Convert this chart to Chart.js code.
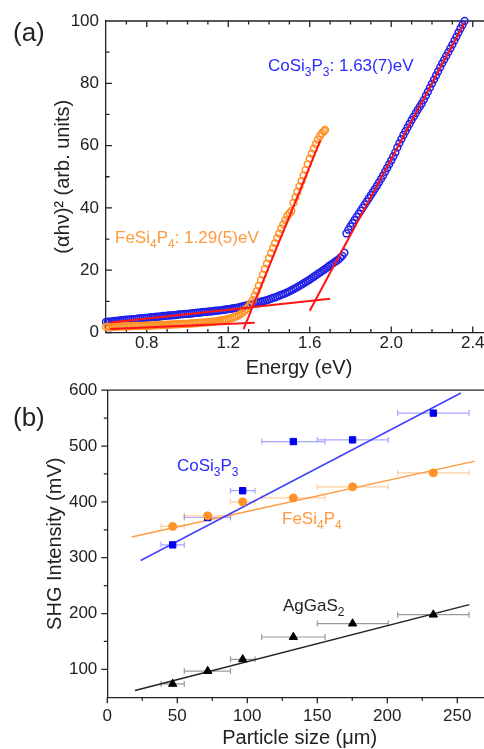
<!DOCTYPE html>
<html>
<head>
<meta charset="utf-8">
<script src="https://cdn.jsdelivr.net/npm/chart.js@4.4.0/dist/chart.umd.min.js"></script>
<style>
  body { margin: 0; background: #fff; }
  #page { position: relative; width: 484px; height: 749px; overflow: hidden; }
  #absChart { position: absolute; left: 0; top: 0; }
  #shgChart { position: absolute; left: 0; top: 370px; }
</style>
</head>
<body>
<div id="page">
  <canvas id="absChart" width="492" height="380"></canvas>
  <canvas id="shgChart" width="492" height="380"></canvas>
</div>
<script>
// ---- panel (a): Tauc plot ----
const coEnergy = [0.60,0.61,0.62,0.63,0.64,0.65,0.66,0.67,0.68,0.69,0.70,0.71,0.72,0.73,0.74,0.75,0.76,0.77,0.78,0.79,
  0.80,0.81,0.82,0.83,0.84,0.85,0.86,0.87,0.88,0.89,0.90,0.91,0.92,0.93,0.94,0.95,0.96,0.97,0.98,0.99,
  1.00,1.01,1.02,1.03,1.04,1.05,1.06,1.07,1.08,1.09,1.10,1.11,1.12,1.13,1.14,1.15,1.16,1.17,1.18,1.19,
  1.20,1.21,1.22,1.23,1.24,1.25,1.26,1.27,1.28,1.29,1.30,1.31,1.32,1.33,1.34,1.35,1.36,1.37,1.38,1.39,
  1.40,1.41,1.42,1.43,1.44,1.45,1.46,1.47,1.48,1.49,1.50,1.51,1.52,1.53,1.54,1.55,1.56,1.57,1.58,1.59,
  1.60,1.61,1.62,1.63,1.64,1.65,1.66,1.67,1.68,1.69,1.70,1.71,1.72,1.73,1.74,1.75,1.76,1.77,
  1.78,1.79,1.80,1.81,1.82,1.83,1.84,1.85,1.86,1.87,1.88,1.89,1.90,1.91,1.92,1.93,1.94,1.95,1.96,1.97,
  1.98,1.99,2.00,2.01,2.02,2.03,2.04,2.05,2.06,2.07,2.08,2.09,2.10,2.11,2.12,2.13,2.14,2.15,2.16,2.17,
  2.18,2.19,2.20,2.21,2.22,2.23,2.24,2.25,2.26,2.27,2.28,2.29,2.30,2.31,2.32,2.33,2.34,2.35,2.36];
const coAbs = [3.4,3.45,3.5,3.6,3.7,3.75,3.8,3.9,4.0,4.05,4.1,4.15,4.2,4.25,4.3,4.4,4.5,4.55,4.6,4.65,
  4.7,4.8,4.9,4.95,5.0,5.05,5.1,5.2,5.3,5.35,5.4,5.45,5.5,5.55,5.6,5.7,5.8,5.85,5.9,5.95,
  6.0,6.05,6.1,6.2,6.3,6.35,6.4,6.5,6.6,6.65,6.7,6.75,6.8,6.9,7.0,7.05,7.1,7.2,7.3,7.4,
  7.5,7.6,7.7,7.8,7.9,8.05,8.2,8.35,8.5,8.7,8.9,9.05,9.2,9.35,9.5,9.7,9.9,10.05,10.2,10.4,
  10.6,10.85,11.1,11.3,11.5,11.8,12.1,12.35,12.6,12.9,13.2,13.55,13.9,14.25,14.6,15.0,15.4,15.8,16.2,16.6,
  17.0,17.45,17.9,18.35,18.8,19.25,19.7,20.15,20.6,21.1,21.6,22.05,22.5,22.95,23.4,24.0,24.6,25.6,
  31.8,33.0,34.1,35.1,36.1,37.1,38.1,39.1,40.1,41.1,42.1,43.1,44.1,45.1,46.1,47.1,48.2,49.3,50.4,51.6,
  52.8,54.0,55.2,56.5,57.8,59.4,60.8,62.1,63.4,64.6,65.8,67.0,68.2,69.3,70.4,71.5,72.5,73.5,74.7,76.0,
  77.3,78.6,79.9,81.2,82.5,83.8,85.1,86.4,87.6,88.8,90.0,91.2,92.4,93.7,95.0,96.3,97.6,98.8,100.0];
const feEnergy = [0.60,0.61,0.62,0.63,0.64,0.65,0.66,0.67,0.68,0.69,0.70,0.71,0.72,0.73,0.74,0.75,0.76,0.77,0.78,0.79,
  0.80,0.81,0.82,0.83,0.84,0.85,0.86,0.87,0.88,0.89,0.90,0.91,0.92,0.93,0.94,0.95,0.96,0.97,0.98,0.99,
  1.00,1.01,1.02,1.03,1.04,1.05,1.06,1.07,1.08,1.09,1.10,1.11,1.12,1.13,1.14,1.15,1.16,1.17,1.18,1.19,
  1.20,1.21,1.22,1.23,1.24,
  1.25,1.26,1.27,1.28,1.29,1.30,1.31,1.32,1.33,1.34,1.35,1.36,1.37,1.38,1.39,1.40,1.41,1.42,1.43,1.44,
  1.45,1.46,1.47,1.48,1.49,1.50,1.51,1.52,1.53,1.54,1.55,1.56,1.57,1.58,1.59,1.60,1.61,1.62,1.63,1.64,
  1.65,1.66,1.67,1.675];
const feAbs = [1.8,1.8,1.8,1.85,1.85,1.9,1.9,1.95,1.95,2.0,2.0,2.0,2.05,2.05,2.1,2.1,2.1,2.15,2.15,2.2,
  2.2,2.25,2.25,2.3,2.3,2.35,2.35,2.4,2.45,2.45,2.5,2.5,2.55,2.6,2.6,2.65,2.7,2.7,2.75,2.8,
  2.8,2.85,2.9,2.95,3.0,3.05,3.1,3.15,3.2,3.25,3.3,3.35,3.45,3.5,3.6,3.7,3.8,3.95,4.05,4.2,
  4.4,4.55,4.75,4.95,5.2,
  5.5,5.9,6.4,7.0,7.6,8.4,9.3,10.4,11.8,13.3,15.0,16.8,18.6,20.4,22.1,23.8,25.5,27.1,28.7,30.3,
  31.8,33.3,34.7,36.1,37.4,38.3,39.0,41.6,43.4,45.2,46.9,48.6,50.4,52.2,54.0,55.8,57.4,59.0,60.5,61.9,
  63.1,64.0,64.6,65.0];
// red tangent lines (end points)
const coBaseX = [0.62, 1.70], coBaseY = [3.2, 10.8];
const coEdgeX = [1.60, 2.36], coEdgeY = [7.0, 99.5];
const feBaseX = [0.62, 1.33], feBaseY = [1.1, 3.1];
const feEdgeX = [1.275, 1.652], feEdgeY = [1.1, 61.7];
const energyTicks = [0.8, 1.2, 1.6, 2.0, 2.4];
const energyMinor = [0.7, 0.9, 1.0, 1.1, 1.3, 1.4, 1.5, 1.7, 1.8, 1.9, 2.1, 2.2, 2.3];
const absTicks = [0, 20, 40, 60, 80, 100];
const absMinor = [10, 30, 50, 70, 90];

// ---- panel (b): SHG vs particle size ----
const sizes = [46.7, 71.7, 96.7, 132.9, 175.2, 232.9];
const sizeLow = [38.4, 55.0, 88.0, 110.3, 150.0, 207.4];
const sizeHigh = [55.0, 88.0, 105.5, 155.5, 200.7, 258.4];
const shgCo = [323, 372, 420, 508, 511, 559];
const shgFe = [356, 375, 400, 407, 427, 452];
const shgAg = [74, 97, 118, 158, 182, 198];
const fitCoX = [23.8, 252.6], fitCoY = [295, 595];
const fitFeX = [17.4, 262.6], fitFeY = [337, 473];
const fitAgX = [19.8, 258.6], fitAgY = [62, 216];
const sizeTicks = [0, 50, 100, 150, 200, 250];
const sizeMinor = [25, 75, 125, 175, 225];
const shgTicks = [100, 200, 300, 400, 500, 600];
const shgMinor = [150, 250, 350, 450, 550];

const ink = '#222';
const fam = "'Liberation Sans', Arial, sans-serif";
const BLUE = '#2020e8', ORANGE = '#ff9226', RED = '#ff1414';

function pts(xs, ys) { return xs.map((v, i) => ({x: v, y: ys[i]})); }

// frame: top border + minor/major tick marks
const frame = {
  id: 'frame',
  beforeDatasetsDraw(chart, args, o) {
    const {ctx, chartArea: a} = chart;
    const x = chart.scales.x, y = chart.scales.y;
    ctx.save();
    ctx.strokeStyle = ink;
    ctx.lineWidth = 1.3;
    ctx.beginPath();
    ctx.moveTo(a.left, a.top); ctx.lineTo(a.right, a.top);
    const s = o.inward ? 1 : -1;
    const mark = (vals, len, axis) => vals.forEach(v => {
      if (axis === 'x') {
        const px = x.getPixelForValue(v);
        ctx.moveTo(px, a.bottom); ctx.lineTo(px, a.bottom - s * len);
        if (o.topTicks) { ctx.moveTo(px, a.top); ctx.lineTo(px, a.top + len); }
      } else {
        const py = y.getPixelForValue(v);
        ctx.moveTo(a.left, py); ctx.lineTo(a.left + s * len, py);
      }
    });
    mark(o.xMajor, 6, 'x'); mark(o.xMinor, 3.5, 'x');
    mark(o.yMajor, 6, 'y'); mark(o.yMinor, 3.5, 'y');
    ctx.stroke();
    ctx.restore();
  }
};

// horizontal error bars read from dataset.xErr
const errBars = {
  id: 'errBars',
  beforeDatasetsDraw(chart) {
    const {ctx} = chart;
    const x = chart.scales.x, y = chart.scales.y;
    chart.data.datasets.forEach(ds => {
      if (!ds.xErr) return;
      ctx.save();
      ctx.strokeStyle = ds.errColor;
      ctx.lineWidth = 1.2;
      ctx.beginPath();
      ds.data.forEach((p, i) => {
        const py = y.getPixelForValue(p.y);
        const x0 = x.getPixelForValue(ds.xErr.low[i]), x1 = x.getPixelForValue(ds.xErr.high[i]);
        ctx.moveTo(x0, py); ctx.lineTo(x1, py);
        ctx.moveTo(x0, py - 3); ctx.lineTo(x0, py + 3);
        ctx.moveTo(x1, py - 3); ctx.lineTo(x1, py + 3);
      });
      ctx.stroke();
      ctx.restore();
    });
  }
};

// text with subscripts; parts given as strings, subscripts as [string]
const notes = {
  id: 'notes',
  afterDatasetsDraw(chart, args, o) {
    const ctx = chart.ctx;
    ctx.save();
    ctx.textBaseline = 'alphabetic';
    o.items.forEach(it => {
      let px = it.x;
      ctx.fillStyle = it.color;
      it.parts.forEach(p => {
        const sub = Array.isArray(p);
        const t = sub ? p[0] : p;
        ctx.font = (sub ? Math.round(it.size * 0.7) : it.size) + 'px ' + fam;
        ctx.fillText(t, px, it.y + (sub ? it.size * 0.3 : 0));
        px += ctx.measureText(t).width;
      });
    });
    ctx.restore();
  }
};

function axisStyle(tickVals, pad, title, titlePad) {
  return {
    border: {display: true, color: ink, width: 1.3},
    grid: {display: false, drawTicks: false},
    afterBuildTicks: s => { s.ticks = tickVals.map(v => ({value: v})); },
    ticks: {color: ink, padding: pad, font: {family: fam, size: 17}},
    title: {display: true, text: title, color: ink, padding: titlePad, font: {family: fam, size: 20}}
  };
}

function line(xs, ys, color, width, order) {
  return {type: 'line', data: pts(xs, ys), borderColor: color, borderWidth: width,
    pointRadius: 0, showLine: true, fill: false, order: order};
}

new Chart(document.getElementById('absChart'), {
  type: 'scatter',
  data: {
    datasets: [
      line(feBaseX, feBaseY, RED, 2, 0),
      line(feEdgeX, feEdgeY, RED, 2, 0),
      line(coBaseX, coBaseY, RED, 2, 0),
      line(coEdgeX, coEdgeY, RED, 2, 0),
      {data: pts(feEnergy, feAbs), pointStyle: 'circle', pointRadius: 3.4, borderWidth: 1.5,
        borderColor: ORANGE, backgroundColor: 'rgba(255,255,255,0)', order: 1, clip: false},
      {data: pts(coEnergy, coAbs), pointStyle: 'circle', pointRadius: 3.4, borderWidth: 1.5,
        borderColor: BLUE, backgroundColor: 'rgba(255,255,255,0)', order: 2, clip: false}
    ]
  },
  options: {
    responsive: false,
    animation: false,
    layout: {autoPadding: false, padding: {top: 21, left: 0, right: 0, bottom: 0}},
    plugins: {
      legend: {display: false},
      tooltip: {enabled: false},
      frame: {inward: true, topTicks: true, xMajor: energyTicks, xMinor: energyMinor, yMajor: absTicks, yMinor: absMinor},
      notes: {items: [
        {x: 13, y: 41, size: 26, color: ink, parts: ['(a)']},
        {x: 268, y: 71, size: 17, color: '#2b2bff', parts: ['CoSi', ['3'], 'P', ['3'], ': 1.63(7)eV']},
        {x: 115, y: 243, size: 17, color: '#ff9a3c', parts: ['FeSi', ['4'], 'P', ['4'], ': 1.29(5)eV']}
      ]}
    },
    scales: {
      x: Object.assign(axisStyle(energyTicks, 1, 'Energy (eV)', {top: 0, bottom: 0}), {
        type: 'linear', min: 0.6, max: 2.4945,
        afterFit: s => { s.height = 47.5; }
      }),
      y: Object.assign(axisStyle(absTicks, 7, '(αhν)² (arb. units)', {top: 51, bottom: 0}), {
        min: 0, max: 100,
        afterFit: s => { s.width = 106; }
      })
    }
  },
  plugins: [frame, notes]
});

new Chart(document.getElementById('shgChart'), {
  type: 'scatter',
  data: {
    datasets: [
      line(fitCoX, fitCoY, '#4040ff', 1.5, 5),
      line(fitFeX, fitFeY, '#ff9a40', 1.5, 5),
      line(fitAgX, fitAgY, '#222', 1.5, 5),
      {data: pts(sizes, shgFe), pointStyle: 'circle', pointRadius: 4, borderWidth: 1,
        borderColor: ORANGE, backgroundColor: ORANGE, order: 0,
        xErr: {low: sizeLow, high: sizeHigh}, errColor: 'rgba(255,146,38,0.45)'},
      {data: pts(sizes, shgCo), pointStyle: 'rect', pointRadius: 4.5, borderWidth: 1,
        borderColor: '#0000f0', backgroundColor: '#0000f0', order: 1,
        xErr: {low: sizeLow, high: sizeHigh}, errColor: 'rgba(60,60,255,0.45)'},
      {data: pts(sizes, shgAg), pointStyle: 'triangle', pointRadius: 4.8, borderWidth: 1,
        borderColor: '#000', backgroundColor: '#000', order: 0,
        xErr: {low: sizeLow, high: sizeHigh}, errColor: 'rgba(0,0,0,0.4)'}
    ]
  },
  options: {
    responsive: false,
    animation: false,
    layout: {autoPadding: false, padding: {top: 17.3, left: 0, right: 0, bottom: 0}},
    plugins: {
      legend: {display: false},
      tooltip: {enabled: false},
      frame: {inward: false, topTicks: false, xMajor: sizeTicks, xMinor: sizeMinor, yMajor: shgTicks, yMinor: shgMinor},
      notes: {items: [
        {x: 13, y: 56, size: 26, color: ink, parts: ['(b)']},
        {x: 177, y: 101, size: 17, color: '#2b2bff', parts: ['CoSi', ['3'], 'P', ['3']]},
        {x: 282, y: 154, size: 17, color: '#ff9a3c', parts: ['FeSi', ['4'], 'P', ['4']]},
        {x: 283, y: 241, size: 17, color: ink, parts: ['AgGaS', ['2']]}
      ]}
    },
    scales: {
      x: Object.assign(axisStyle(sizeTicks, 9, 'Particle size (μm)', {top: 0, bottom: 0}), {
        type: 'linear', min: 0, max: 274.8,
        afterFit: s => { s.height = 52.7; }
      }),
      y: Object.assign(axisStyle(shgTicks, 10, 'SHG Intensity (mV)', {top: 43, bottom: 0}), {
        min: 50, max: 600,
        afterFit: s => { s.width = 107.3; }
      })
    }
  },
  plugins: [frame, errBars, notes]
});
</script>
</body>
</html>
